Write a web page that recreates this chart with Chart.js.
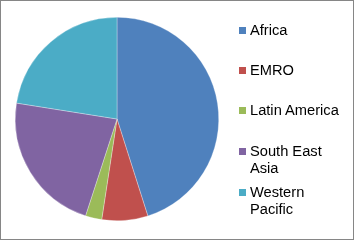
<!DOCTYPE html>
<html>
<head>
<meta charset="utf-8">
<script src="https://cdn.jsdelivr.net/npm/chart.js@4/dist/chart.umd.min.js"></script>
<style>
  html, body { margin: 0; padding: 0; background: #fff; }
  #wrap { position: relative; width: 354px; height: 240px; }
  #frame { position: absolute; left: 0; top: 0; width: 352px; height: 238px; border: 1px solid #868686; pointer-events: none; }
  #legend { position: absolute; left: 239px; top: 0; font-family: "Liberation Sans", Arial, sans-serif; font-size: 14.67px; line-height: 17px; color: #000; }
  .item { position: absolute; left: 0; display: flex; align-items: flex-start; }
  .box { width: 7px; height: 7px; margin-top: 5px; margin-right: 4px; flex: none; }
  .txt { width: 100px; }
</style>
</head>
<body>
<div id="wrap">
  <canvas id="pie" width="354" height="240"></canvas>
  <div id="legend"></div>
  <div id="frame"></div>
</div>
<script>
// regions and their share
const regions = ['Africa', 'EMRO', 'Latin America', 'South East Asia', 'Western Pacific'];
const shares = [45.1, 7.3, 2.6, 22.5, 22.5];
const colors = ['#4F81BD', '#C0504D', '#9BBB59', '#8064A2', '#4BACC6'];

const ctx = document.getElementById('pie');
const chart = new Chart(ctx, {
    type: 'pie',
    data: {
        labels: regions,
        datasets: [{
            data: shares,
            backgroundColor: colors,
            borderColor: 'rgba(255,255,255,0.6)',
            borderWidth: 0.5
        }]
    },
    options: {
        responsive: false,
        animation: false,
        layout: { padding: { left: 15, top: 17, bottom: 19, right: 135 } },
        plugins: {
            legend: { display: false },
            tooltip: { enabled: false }
        }
    }
});

// legend as html so the long names wrap like the original
// excel spaces the entries unevenly, so each one gets its own top
const legTops = [22, 62, 102, 143, 184];
const leg = document.getElementById('legend');
regions.forEach((r, i) => {
    const it = document.createElement('div');
    it.className = 'item';
    it.style.top = legTops[i] + 'px';
    it.innerHTML = '<span class="box" style="background:' + colors[i] + '"></span><span class="txt">' + r + '</span>';
    leg.appendChild(it);
});
</script>
</body>
</html>
